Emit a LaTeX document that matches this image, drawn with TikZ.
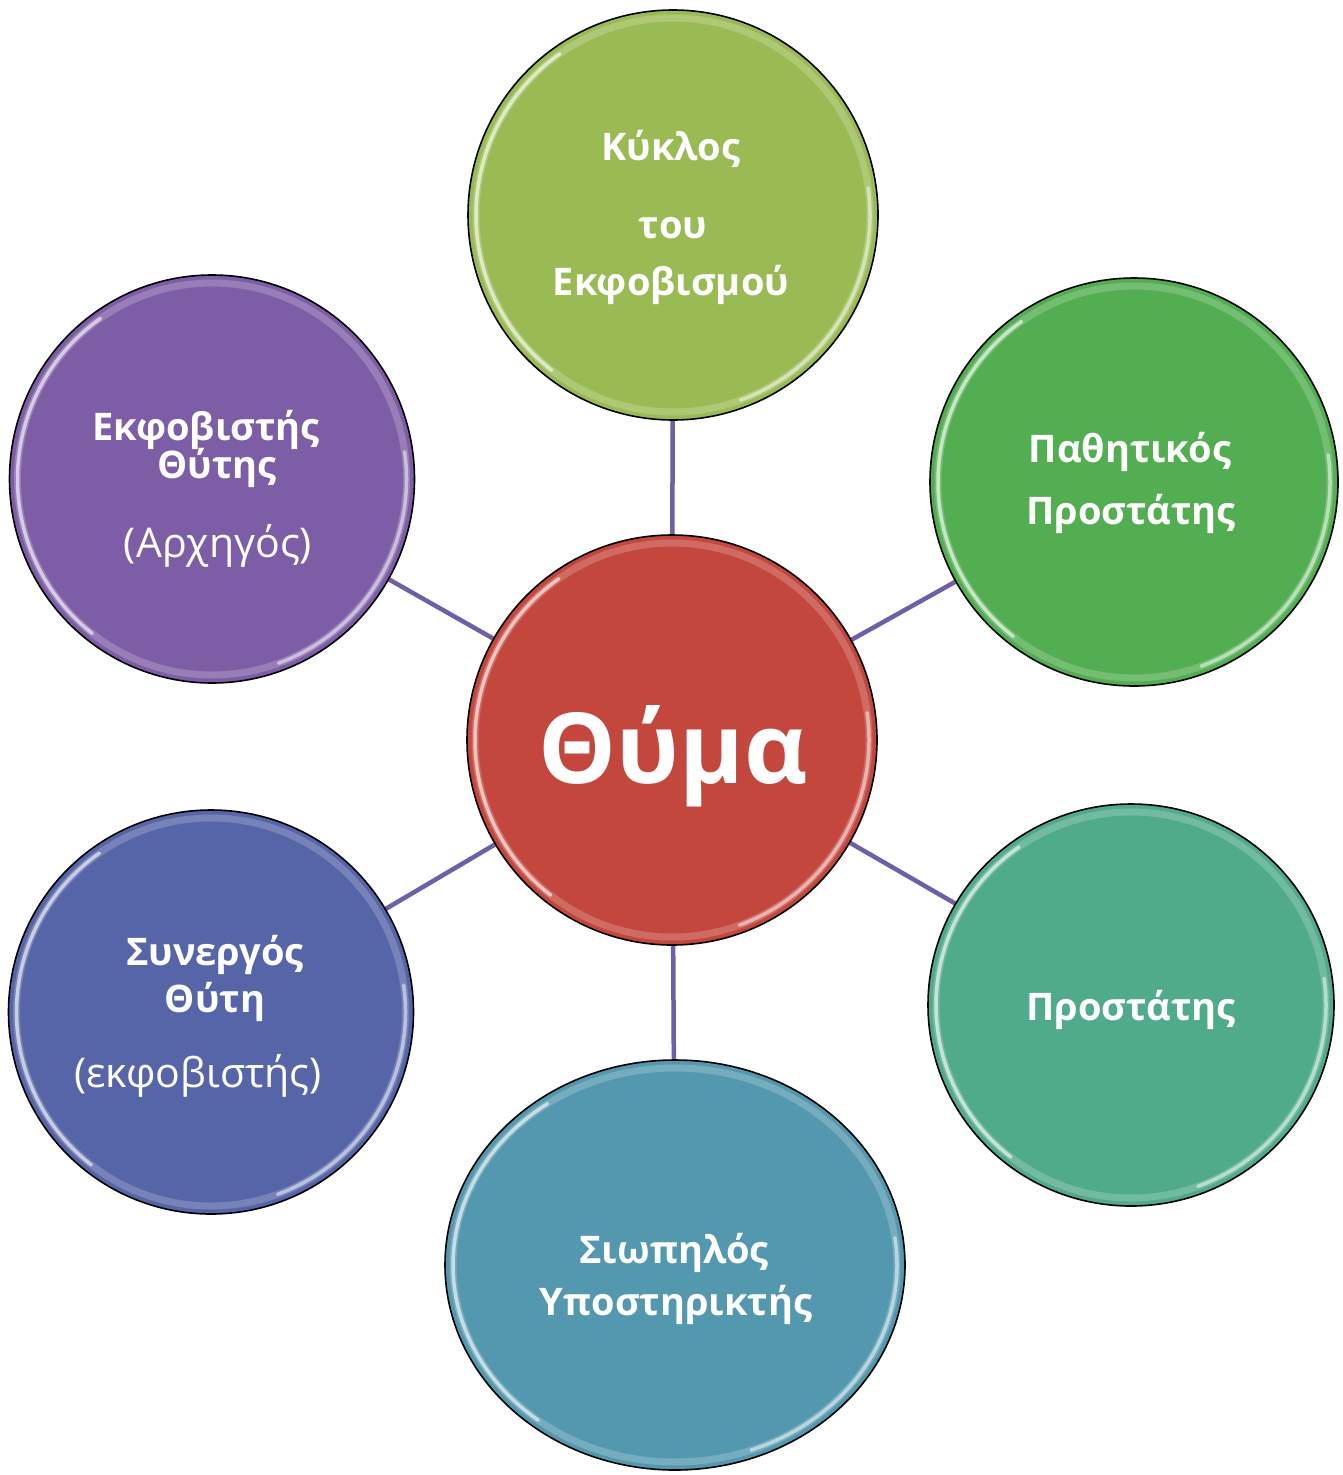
\documentclass[tikz,border=0pt]{standalone}
\usepackage{fontspec}
\setmainfont{Open Sans}
\usetikzlibrary{shapes.geometric,backgrounds,calc}
\definecolor{cRed}{HTML}{C3473D}
\definecolor{cOlive}{HTML}{9ABB54}
\definecolor{cGreen}{HTML}{52AE50}
\definecolor{cTeal}{HTML}{4FAB89}
\definecolor{cAqua}{HTML}{5398AE}
\definecolor{cBlue}{HTML}{5665A7}
\definecolor{cPurple}{HTML}{7D5EA6}
\definecolor{cConn}{HTML}{6E5FA8}
\tikzset{
  bubble/.style={ellipse, draw=black, line width=1.6pt, inner sep=0pt},
  conn/.style={draw=cConn, line width=4.5pt},
  lbl/.style={text=white, font=\fontsize{38}{38}\selectfont\bfseries, anchor=base, inner sep=0pt},
  lblr/.style={text=white, font=\fontsize{41}{41}\selectfont, anchor=base, inner sep=0pt},
  big/.style={text=white, font=\fontsize{98}{98}\selectfont\bfseries, anchor=base, inner sep=0pt},
}
\newcommand\glossring[3]{%
  \draw[white, opacity=0.2, line width=7pt] (#1.center) ellipse[x radius=#2-8, y radius=#3-8];
  \draw[white, opacity=0.6, line width=3.5pt, line cap=round]
    ($(#1.center)+(128:#2-8 and #3-8)$) arc[start angle=128, end angle=235, x radius=#2-8, y radius=#3-8];
  \draw[white, opacity=0.5, line width=3.5pt, line cap=round]
    ($(#1.center)+(70:#2-8 and #3-8)$) arc[start angle=70, end angle=-8, x radius=#2-8, y radius=#3-8];
}
\begin{document}
\begin{tikzpicture}[x=1pt,y=-1pt]
\useasboundingbox (0,0) rectangle (1343,1475);

% circles
\node[bubble, fill=cRed,    minimum width=410pt, minimum height=410pt] (victim)  at (672,740)  {};
\node[bubble, fill=cOlive,  minimum width=410pt, minimum height=410pt] (cycle)   at (673,215)  {};
\node[bubble, fill=cGreen,  minimum width=408pt, minimum height=408pt] (passive) at (1134,482) {};
\node[bubble, fill=cTeal,   minimum width=406pt, minimum height=402pt] (defender) at (1131,1005) {};
\node[bubble, fill=cAqua,   minimum width=460pt, minimum height=410pt] (silent)  at (675,1265) {};
\node[bubble, fill=cBlue,   minimum width=405pt, minimum height=404pt] (helper)  at (211,1012) {};
\node[bubble, fill=cPurple, minimum width=405pt, minimum height=408pt] (bully)   at (212,479)  {};

\glossring{victim}{205}{205}
\glossring{cycle}{205}{205}
\glossring{passive}{204}{204}
\glossring{defender}{203}{201}
\glossring{silent}{230}{205}
\glossring{helper}{202.5}{202}
\glossring{bully}{202.5}{204}

% background and connectors
\begin{scope}[on background layer]
  \fill[white] (0,0) rectangle (1343,1475);
  \draw[conn] (victim) -- (cycle);
  \draw[conn] (victim) -- (passive);
  \draw[conn] (victim) -- (defender);
  \draw[conn] (victim) -- (silent);
  \draw[conn] (victim) -- (helper);
  \draw[conn] (victim) -- (bully);
\end{scope}

% labels
\node[big] (victim-l) at (673,783) {Θύμα};

\node[lbl] (cycle-l1) at (671,160) {Κύκλος};
\node[lbl] (cycle-l2) at (673,238) {του};
\node[lbl] (cycle-l3) at (671,295) {Εκφοβισμού};

\node[lbl] (passive-l1) at (1130,462) {Παθητικός};
\node[lbl] (passive-l2) at (1131,524) {Προστάτης};

\node[lbl] (defender-l1) at (1131,1020) {Προστάτης};

\node[lbl] (silent-l1) at (674,1263) {Σιωπηλός};
\node[lbl] (silent-l2) at (676,1315) {Υποστηρικτής};

\node[lbl]  (helper-l1) at (215,965)  {Συνεργός};
\node[lbl]  (helper-l2) at (215,1012) {Θύτη};
\node[lblr] (helper-l3) at (198,1087) {(εκφοβιστής)};

\node[lbl]  (bully-l1) at (206,440) {Εκφοβιστής};
\node[lbl]  (bully-l2) at (217,478) {Θύτης};
\node[lblr] (bully-l3) at (218,557) {(Αρχηγός)};
\end{tikzpicture}
\end{document}
